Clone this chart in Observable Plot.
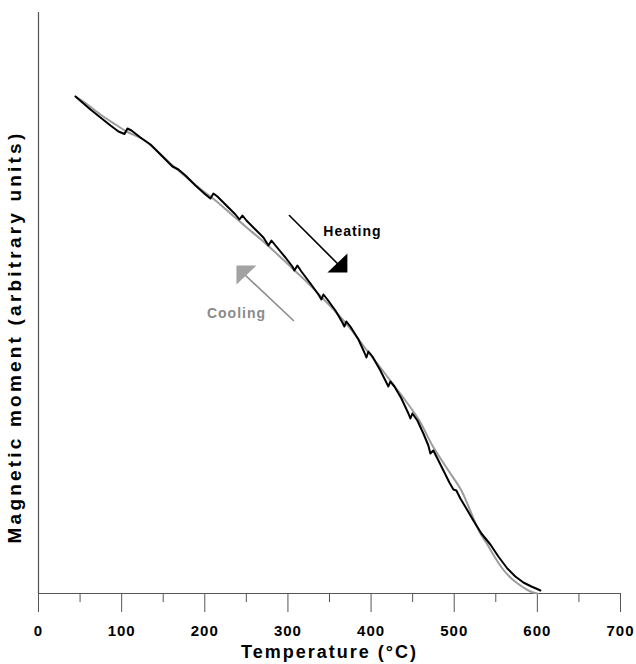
<!DOCTYPE html>
<html>
<head>
<meta charset="utf-8">
<script src="https://cdn.jsdelivr.net/npm/d3@7"></script>
<script src="https://cdn.jsdelivr.net/npm/@observablehq/plot@0.6"></script>
<style>
  body { margin: 0; background: #fff; }
  svg { display: block; }
</style>
</head>
<body>
<div id="chart"></div>
<script>
// Thermomagnetic run: magnetic moment (arbitrary units) against temperature (°C)
const heatingT = [44.5, 62.5, 74.5, 86.6, 96.2, 103.4, 107.0, 111.8, 122.6, 134.7, 146.7, 161.1, 168.3, 176.8, 188.8,
  200.8, 206.8, 210.4, 215.2, 224.8, 236.9, 241.7, 245.3, 250.1, 260.9, 270.5, 276.6, 280.2, 285.0, 297.0,
  305.4, 307.8, 311.4, 316.2, 327.1, 336.7, 340.3, 342.7, 347.5, 357.1, 365.5, 367.9, 370.3, 375.1, 384.8,
  392.0, 394.4, 396.8, 401.6, 411.2, 418.4, 420.8, 423.2, 428.1, 436.5, 444.9, 447.3, 449.7, 455.7, 462.9,
  468.9, 471.3, 474.9, 479.8, 487.0, 494.2, 499.0, 502.6, 507.4, 514.6, 523.0, 532.7, 543.5, 553.1, 563.9,
  573.5, 583.2, 592.8, 601.2, 603.6];
const heatingM = [49.7, 48.4, 47.6, 46.8, 46.2, 45.95, 46.5, 46.3, 45.6, 44.9, 43.9, 42.7, 42.4, 41.8, 40.8,
  39.9, 39.5, 40.0, 39.7, 38.9, 37.9, 37.4, 37.8, 37.3, 36.4, 35.6, 34.8, 35.3, 34.8, 33.6,
  32.7, 32.3, 32.8, 32.2, 31.0, 29.9, 29.4, 29.9, 29.4, 28.3, 27.1, 26.7, 27.2, 26.7, 25.4,
  24.1, 23.6, 24.2, 23.7, 22.3, 21.1, 20.7, 21.2, 20.7, 19.5, 18.0, 17.5, 18.0, 17.3, 16.0,
  14.8, 14.0, 14.3, 13.5, 12.3, 11.1, 10.4, 10.3, 9.5, 8.5, 7.3, 6.0, 4.9, 3.7, 2.5,
  1.7, 1.1, 0.7, 0.4, 0.3];

const coolingT = [44.5, 56.5, 74.5, 92.6, 107.0, 122.6, 134.7, 158.7, 176.8, 194.8, 212.8, 230.9, 248.9, 266.9,
  285.0, 303.0, 321.0, 339.1, 357.1, 375.1, 393.2, 411.2, 429.3, 441.3, 458.1, 473.7, 493.0, 508.6, 518.2,
  524.2, 531.5, 539.9, 548.3, 557.9, 566.3, 574.7, 583.2, 591.6, 600.0];
const coolingM = [49.7, 49.05, 47.9, 46.9, 46.15, 45.55, 44.85, 43.0, 41.7, 40.45, 39.3, 38.0, 36.7, 35.45,
  34.1, 32.7, 31.3, 29.75, 28.2, 26.5, 24.5, 22.6, 20.6, 19.3, 17.3, 14.8, 12.3, 10.3, 8.5,
  7.3, 6.0, 4.9, 3.7, 2.5, 1.7, 1.1, 0.6, 0.2, 0.0];

// Temperature axis ticks
const majorTicks = [0, 100, 200, 300, 400, 500, 600, 700];
const minorTicks = [50, 150, 250, 350, 450, 550, 650];

// Direction arrows, in (temperature, moment) coordinates
const heatingShaftT = [301.8, 365.5];
const heatingShaftM = [37.8, 32.5];
const heatingHeadT = [371.5, 371.5, 347.5];
const heatingHeadM = [34.0, 32.1, 32.1];
const coolingShaftT = [306.6, 246.5];
const coolingShaftM = [27.3, 32.0];
const coolingHeadT = [238.1, 262.1, 238.1];
const coolingHeadM = [32.8, 32.8, 30.9];

const heatingLabel = "Heating";
const coolingLabel = "Cooling";
const labelAt = {heating: [377.6, 36.2], cooling: [238.1, 28.0]};
const xTitle = "Temperature (°C)";
const yTitle = "Magnetic moment (arbitrary units)";

const zip = (ts, ms) => ts.map((t, i) => ({t, m: ms[i]}));
const heating = zip(heatingT, heatingM);
const cooling = zip(coolingT, coolingM);

const axisColor = "#555";
const greyCurve = "#9c9c9c";

const chart = Plot.plot({
  width: 636,
  height: 664,
  marginLeft: 38,
  marginRight: 16,
  marginTop: 12,
  marginBottom: 71,
  style: {fontFamily: "'Liberation Sans', Arial, Helvetica, sans-serif", background: "#fff", color: "#000"},
  x: {domain: [0, 700]},
  y: {domain: [0, 58.1], axis: null},
  marks: [
    Plot.axisX(minorTicks, {tickSize: 9, stroke: axisColor, fill: "none", label: null}),
    Plot.axisX(majorTicks, {tickSize: 19, tickPadding: 13, stroke: axisColor, fill: "#000",
      tickFormat: d => String(d), label: null}),
    Plot.ruleY([0], {stroke: axisColor, strokeWidth: 1.2}),
    Plot.ruleX([0], {stroke: axisColor, strokeWidth: 1.2}),

    // cooling (grey) under heating (black)
    Plot.line(cooling, {x: "t", y: "m", stroke: greyCurve, strokeWidth: 2, curve: "catmull-rom"}),
    Plot.line(heating, {x: "t", y: "m", stroke: "#000", strokeWidth: 2, strokeLinejoin: "round"}),

    // heating arrow
    Plot.line(zip(heatingShaftT, heatingShaftM), {x: "t", y: "m", stroke: "#000", strokeWidth: 1.6}),
    Plot.line(zip(heatingHeadT, heatingHeadM), {x: "t", y: "m", fill: "#000", stroke: "none"}),
    // cooling arrow
    Plot.line(zip(coolingShaftT, coolingShaftM), {x: "t", y: "m", stroke: "#8c8c8c", strokeWidth: 1.6}),
    Plot.line(zip(coolingHeadT, coolingHeadM), {x: "t", y: "m", fill: "#a2a2a2", stroke: "none"}),

    Plot.text([heatingLabel], {x: labelAt.heating[0], y: labelAt.heating[1], text: d => d,
      fontSize: 14, fontWeight: "bold", fill: "#000"}),
    Plot.text([coolingLabel], {x: labelAt.cooling[0], y: labelAt.cooling[1], text: d => d,
      fontSize: 14, fontWeight: "bold", fill: "#8a8a8a"}),

    Plot.text([xTitle], {frameAnchor: "bottom", dy: 59, text: d => d, fontSize: 18,
      fontWeight: "bold", lineAnchor: "middle", fill: "#000"}),
    Plot.text([yTitle], {frameAnchor: "left", dx: -24, dy: 34, rotate: -90, text: d => d,
      fontSize: 19, fontWeight: "bold", textAnchor: "middle", lineAnchor: "middle", fill: "#000"})
  ]
});

// letter spacing and sizes for the bold labels
const tickText = new Set(majorTicks.map(String));
d3.select(chart).selectAll("text").each(function () {
  const s = this.textContent;
  if (s === heatingLabel || s === coolingLabel) this.setAttribute("letter-spacing", "1px");
  else if (s === xTitle) this.setAttribute("letter-spacing", "2px");
  else if (s === yTitle) this.setAttribute("letter-spacing", "3.2px");
  else if (tickText.has(s)) {
    this.style.fontSize = "15px";
    this.style.fontWeight = "bold";
    this.setAttribute("letter-spacing", "1px");
  }
});

document.getElementById("chart").appendChild(chart);
</script>
</body>
</html>
